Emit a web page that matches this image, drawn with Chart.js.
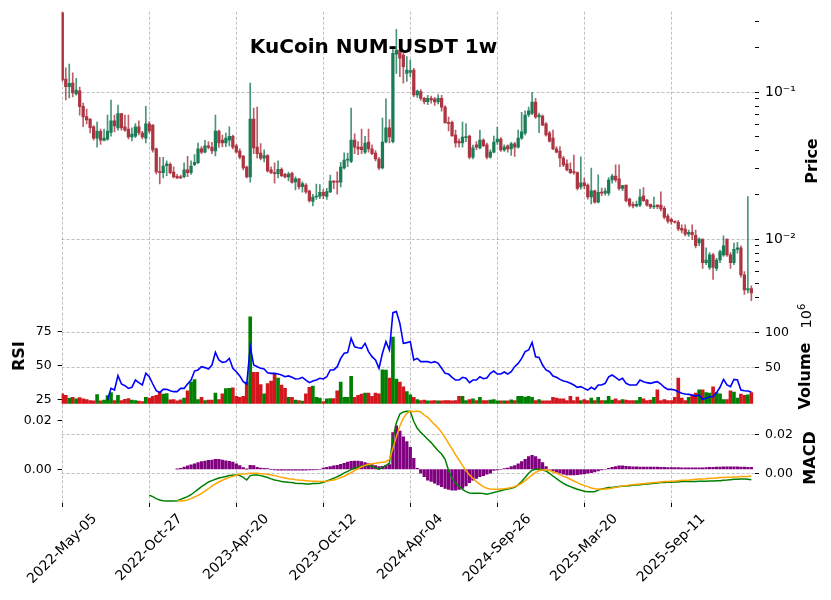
<!DOCTYPE html>
<html><head><meta charset="utf-8">
<script src="https://cdn.jsdelivr.net/npm/chart.js@4.4.0/dist/chart.umd.min.js"></script>
<style>
html,body{margin:0;padding:0;background:#fff;}
#wrap{position:relative;width:831px;height:600px;overflow:hidden;font-family:"DejaVu Sans",sans-serif;background:#fff;}
#wrap canvas{position:absolute;left:0;}
.rl{position:absolute;white-space:nowrap;color:#000;transform:translate(-50%,-50%) rotate(-90deg);font-weight:bold;font-size:16px;line-height:1;}
</style></head><body>
<div id="wrap">
<canvas id="cp" width="831" height="312" style="top:0px"></canvas>
<canvas id="cr" width="831" height="110" style="top:300px"></canvas>
<canvas id="cm" width="831" height="200" style="top:400px"></canvas>
<div style="position:absolute;left:373.5px;top:46px;transform:translate(-50%,-50%);font-weight:bold;font-size:20px;white-space:nowrap;line-height:1;">KuCoin NUM-USDT 1w</div>
<div class="rl" style="left:811.5px;top:161px;">Price</div>
<div class="rl" style="left:18.5px;top:356px;">RSI</div>
<div class="rl" style="left:805px;top:376px;">Volume</div>
<div class="rl" style="left:805px;top:316px;font-weight:normal;font-size:14.5px;">10<sup style="font-size:10px">6</sup></div>
<div class="rl" style="left:810px;top:458px;">MACD</div>
</div>
<script>
// ---------------- data (weekly candles, index 0 = 2022-May-05) ----------------
const tickPositions = [0, 25, 50, 75, 100, 125, 150, 175];
const tickLabels = ['2022-May-05','2022-Oct-27','2023-Apr-20','2023-Oct-12','2024-Apr-04','2024-Sep-26','2025-Mar-20','2025-Sep-11'];
const priceTicks = [0.004,0.005,0.006,0.007,0.008,0.009,0.01,0.02,0.03,0.04,0.05,0.06,0.07,0.08,0.09,0.1,0.2,0.3];
const priceTickLabels = {0.01:'10\u207B\u00B2', 0.1:'10\u207B\u00B9'};
const rsiTicks = [25, 50, 75];
const volumeTicks = [50, 100];
const macdTicks = [0, 0.02];

const opens = [.346,.1226,.1087,.115,.097,.102,.080,.068,.0655,.058,
.0486,.054,.0468,.0478,.053,.0636,.057,.0714,.058,.056,
.0494,.050,.058,.0526,.0486,.0607,.0596,.041,.0288,.0283,
.0315,.0322,.0285,.0267,.0265,.0265,.0295,.0283,.032,.033,
.041,.039,.043,.042,.0397,.0543,.0471,.045,.0471,.050,
.0431,.0396,.0367,.0308,.0264,.0655,.0422,.0384,.0355,.037,
.0295,.0283,.0278,.0298,.0275,.0264,.028,.0245,.0257,.0227,
.0233,.0212,.018,.0193,.0195,.0208,.0195,.0209,.0248,.0246,
.0244,.0305,.0344,.0337,.0471,.0422,.0422,.039,.0457,.041,
.0384,.035,.0304,.0457,.057,.0459,.181,.193,.178,.134,
.136,.141,.0954,.1005,.0906,.086,.0906,.0895,.0855,.0906,
.079,.062,.0623,.051,.0462,.045,.049,.0502,.036,.0437,
.0417,.0471,.0437,.036,.039,.0457,.0478,.0403,.0431,.041,
.0444,.0422,.0486,.0525,.070,.0716,.0855,.0676,.0686,.0607,
.0526,.0486,.041,.0396,.0355,.0325,.0298,.0286,.0283,.0226,
.0241,.0233,.0193,.0213,.0178,.0208,.0205,.0205,.0252,.0268,
.0257,.0221,.0233,.0187,.0172,.0168,.017,.0197,.0184,.0172,
.0165,.017,.017,.0162,.0143,.0136,.0131,.013,.0118,.0117,
.0108,.0111,.0106,.0094,.010,.0069,.0064,.0078,.0063,.0072,
.0078,.010,.0078,.0069,.0085,.0087,.0057,.0045,.0046];

const highs = [.355,.146,.155,.135,.124,.108,.0842,.0766,.066,.059,
.0625,.056,.056,.0697,.0882,.0697,.0816,.0716,.0697,.0697,
.057,.061,.0636,.054,.080,.063,.060,.0416,.036,.036,
.034,.033,.031,.0275,.0272,.033,.0365,.034,.0375,.045,
.0425,.047,.046,.0455,.0697,.055,.051,.0525,.058,.051,
.044,.041,.037,.0313,.115,.0776,.079,.0445,.0405,.0375,
.031,.033,.034,.0305,.028,.0285,.0285,.0265,.0258,.0245,
.0238,.0215,.0201,.0236,.0235,.0217,.0221,.0272,.025,.0286,
.0333,.0386,.0384,.0778,.052,.046,.056,.050,.056,.0437,
.040,.036,.0665,.0897,.065,.2035,.267,.209,.183,.174,
.165,.145,.103,.104,.092,.095,.094,.092,.096,.095,
.081,.0676,.0635,.0551,.048,.0625,.061,.051,.0435,.046,
.0551,.048,.045,.0405,.0502,.0578,.049,.0437,.0437,.0455,
.0455,.0551,.0728,.0746,.079,.0995,.0906,.072,.070,.062,
.054,.0551,.0425,.0425,.0365,.0345,.033,.0373,.0286,.0362,
.026,.0237,.0304,.0215,.0273,.0222,.0222,.0262,.0275,.0319,
.0319,.0232,.0233,.019,.0178,.0181,.0218,.0224,.0186,.0173,
.0193,.0171,.0209,.0167,.0148,.0139,.0133,.0134,.0125,.0125,
.0115,.0125,.0115,.0102,.010,.0087,.0081,.008,.0074,.0084,
.0105,.010,.0081,.0094,.0095,.009,.006,.0194,.0048];

const lows = [.118,.0882,.091,.0925,.095,.0697,.058,.0607,.0526,.047,
.0422,.044,.0465,.0471,.0501,.0535,.055,.055,.054,.048,
.0465,.049,.051,.048,.045,.0525,.039,.0277,.0237,.026,
.027,.0277,.026,.0257,.0257,.026,.0265,.0275,.0316,.0325,
.038,.0385,.041,.038,.0367,.042,.0425,.0425,.043,.041,
.0385,.035,.0295,.026,.0244,.038,.0355,.0345,.0335,.0285,
.0278,.024,.026,.0265,.026,.0248,.024,.0216,.0218,.0208,
.0204,.0178,.0168,.0186,.0188,.0188,.0186,.0207,.022,.0202,
.0226,.0299,.031,.033,.038,.0375,.038,.038,.039,.0375,
.034,.0296,.030,.045,.045,.045,.134,.127,.115,.118,
.127,.093,.092,.088,.083,.082,.084,.081,.083,.074,
.0615,.0543,.050,.0422,.0422,.0422,.046,.035,.035,.0405,
.041,.0425,.035,.0355,.0385,.044,.0395,.0395,.039,.037,
.0365,.0415,.0475,.051,.068,.070,.066,.0528,.059,.050,
.0455,.0405,.0385,.031,.031,.029,.0278,.0275,.0216,.0218,
.022,.0187,.0173,.0175,.0176,.0197,.0199,.0198,.024,.0245,
.0215,.0213,.0179,.0165,.0163,.0165,.0166,.018,.0167,.0161,
.0161,.0161,.0155,.0137,.0128,.0126,.0128,.0114,.011,.0105,
.0104,.0099,.0087,.009,.0063,.0067,.0062,.0053,.0061,.0069,
.0076,.0076,.0063,.0067,.0080,.0055,.0042,.0043,.0038];

const closes = [.1207,.1087,.1146,.0985,.103,.0794,.0676,.0645,.0571,.0486,
.0543,.047,.0486,.0543,.0636,.0587,.0714,.057,.055,.0494,
.0518,.058,.0526,.0494,.0607,.0543,.0403,.0286,.0283,.0314,
.0325,.0283,.0264,.026,.026,.0295,.0283,.0314,.0333,.041,
.039,.043,.042,.0397,.0543,.045,.045,.0486,.050,.0422,
.039,.036,.0304,.0264,.0655,.0417,.038,.0355,.037,.029,
.0283,.0278,.0298,.027,.0264,.0277,.0243,.0257,.0226,.0238,
.0209,.0182,.0193,.0195,.0208,.0197,.021,.0248,.0244,.0244,
.0308,.0344,.0349,.0471,.0422,.041,.0405,.045,.041,.038,
.035,.0304,.0457,.057,.0494,.183,.193,.170,.149,.141,
.140,.0954,.1015,.0906,.086,.0906,.0882,.0855,.0906,.079,
.0615,.0612,.0502,.045,.045,.0494,.0494,.036,.0417,.0422,
.0471,.0431,.036,.039,.0457,.0478,.0403,.0422,.041,.0444,
.0422,.0486,.0535,.0697,.0745,.0855,.0676,.0697,.0596,.051,
.0463,.041,.039,.0355,.0319,.0295,.0283,.0283,.0221,.0241,
.0231,.0193,.0213,.0178,.0208,.0205,.0212,.0252,.0268,.0252,
.0221,.0231,.0182,.017,.0168,.0172,.0193,.0182,.017,.0165,
.0168,.0166,.016,.0141,.0132,.0131,.013,.0117,.0115,.0108,
.0111,.0107,.009,.010,.0069,.0072,.0078,.0064,.0072,.0082,
.009,.0078,.0069,.0085,.0087,.0057,.0045,.0046,.0043];

// volume in millions
const volumes = [13.5,11.2,7.6,8.5,6.3,8,6.3,5.4,4,3.5,
12.5,3.5,4.5,10.8,15.3,4,11.2,4,5.8,6.7,
4.5,4,3.1,2.7,8.5,7.6,9.9,11.2,16.6,13,
13.9,5,5.4,3.5,5,7.6,17.5,30.1,33.3,5.4,
8.5,4,4.5,4.5,14.4,5.4,13.5,20.7,21.1,22,
9.9,8.5,9.9,30.1,121.6,43.6,43.6,26.5,13.5,27.9,
31.5,42.3,35.5,25.6,21.1,8.5,8.5,4.5,4,3.1,
13.5,22.5,24.3,8.5,7.6,2.7,6.3,6.7,6.7,17.5,
30.1,8.5,8.5,38.2,8.5,11.2,13,14.4,14.4,9.9,
14.4,13.5,47.3,46.8,35.5,93.2,34.2,30.1,23.4,16.6,
12.1,8.5,5.4,4,4.5,3.5,3.5,4,3.5,3.5,
4,4,3.5,4,9.9,9.9,4,5.4,6.3,4,
8.5,4,4,4.5,5.4,3.5,3.5,3.5,3.5,5,
4,9.9,9.9,9,9.9,8.5,4,5.4,3.5,3.5,
3.5,8.5,7.6,6.3,6.3,4,9.9,4,9,4,
5.4,4,7.6,4,8.5,4,4,9.9,4.5,6.3,
4,5.4,4.5,4,4,4,8.5,6.3,4,4.5,
8.5,18.9,4,5.4,4,4,8.5,35.5,7.6,4,
8.5,11.2,14.4,18.9,18.9,15.3,14.4,23.4,15.3,13.5,
5.4,5.4,17.5,15.8,7.6,13,11.2,12.1,15.3];

const rsi = [null,null,null,null,null,null,null,null,null,null,
null,null,null,25,33.5,32.3,42.8,36.7,35.5,33.5,
34.3,39.6,37.7,36,44.5,42,36.7,31.8,30.4,32.8,
32.8,31.8,31.1,31.1,33.5,33.5,36.7,39.6,46.2,47,
49.4,48.7,47.7,50.6,59.9,54.3,52.6,53,55.5,48.2,
45.7,42.6,38.4,36.7,64,50.6,49.4,48.2,47.7,45,
44.5,44.5,44,43.3,42,42.6,41.6,40.4,40.6,41.6,
39.6,37.7,38.9,39.6,40.9,40.4,42,47,47,49.4,
55.5,59.2,59.7,70.1,64,63.3,62.8,66.5,60.4,56.7,
54.3,48.2,59.2,67.7,61.6,88.9,89.7,81.1,66.5,67,
67.7,54.3,55.5,53.1,53.1,53.1,52.3,53.1,51.8,48.2,
44.5,44,41.6,39.6,39.6,41.6,40.9,37.7,39.6,39.6,
42,40.6,41.1,44.5,46.2,44,44,45.5,44,45.7,
49.4,51.8,55.5,60.4,61.6,67.2,56.7,56.2,50.6,47,
45.7,42.6,41.6,40.1,38.9,38.4,37.2,36,34.3,34.8,
33.5,32.3,34.3,32.8,36,36,37.2,42,43.3,41.6,
39.6,40.9,37.2,36,36,36,39.6,38.4,37.7,37.2,
37.9,38.4,36.7,34.3,32.8,32.8,32.3,31.1,29.9,29.4,
29.1,28.7,27.9,28.7,25.5,26.2,27.4,27.4,30.4,34.3,
40.1,36,34.8,40.1,39.6,32.3,31.8,31.6,30.9];

const macdLine = [null,null,null,null,null,null,null,null,null,null,
null,null,null,null,null,null,null,null,null,null,
null,null,null,null,null,-0.0114,-0.0121,-0.0131,-0.0138,-0.0142,
-0.0143,-0.0143,-0.0143,-0.0142,-0.0135,-0.0128,-0.0121,-0.0111,-0.0097,-0.0083,
-0.0069,-0.0057,-0.0045,-0.0038,-0.0031,-0.0024,-0.0021,-0.0017,-0.0012,-0.0010,
-0.0009,-0.0012,-0.0021,-0.0035,-0.0012,-0.0009,-0.0009,-0.0012,-0.0017,-0.0022,
-0.0029,-0.0035,-0.0038,-0.0043,-0.0045,-0.0047,-0.0048,-0.0052,-0.0053,-0.0053,
-0.0055,-0.0055,-0.0053,-0.0053,-0.0052,-0.0047,-0.0040,-0.0033,-0.0026,-0.0017,
-0.0009,0.0002,0.0010,0.0019,0.0026,0.0033,0.0038,0.0040,0.0040,0.0036,
0.0029,0.0021,0.0031,0.0041,0.0052,0.0181,0.0262,0.0307,0.0318,0.0321,
0.0320,0.0268,0.0233,0.0212,0.0195,0.0176,0.0159,0.0138,0.0117,0.0100,
0.0072,0.0014,-0.0026,-0.0052,-0.0066,-0.0083,-0.0095,-0.0102,-0.0104,-0.0104,
-0.0104,-0.0105,-0.0109,-0.0104,-0.0099,-0.0095,-0.0090,-0.0085,-0.0081,-0.0078,
-0.0073,-0.0060,-0.0043,-0.0022,0.0000,0.0016,0.0021,0.0021,0.0017,0.0012,
0.0000,-0.0014,-0.0028,-0.0040,-0.0052,-0.0062,-0.0069,-0.0076,-0.0083,-0.0088,
-0.0093,-0.0095,-0.0095,-0.0095,-0.0087,-0.0081,-0.0078,-0.0074,-0.0073,-0.0071,
-0.0069,-0.0067,-0.0066,-0.0064,-0.0062,-0.0060,-0.0059,-0.0057,-0.0055,-0.0054,
-0.0052,-0.0050,-0.0048,-0.0048,-0.0047,-0.0047,-0.0045,-0.0045,-0.0043,-0.0043,
-0.0043,-0.0043,-0.0043,-0.0041,-0.0041,-0.0041,-0.0040,-0.0040,-0.0038,-0.0038,
-0.0036,-0.0035,-0.0033,-0.0031,-0.0031,-0.0029,-0.0029,-0.0031,-0.0033];

const signalLine = [null,null,null,null,null,null,null,null,null,null,
null,null,null,null,null,null,null,null,null,null,
null,null,null,null,null,null,null,null,null,null,
null,null,null,-0.0143,-0.0143,-0.0142,-0.0138,-0.0131,-0.0123,-0.0114,
-0.0104,-0.0092,-0.0080,-0.0067,-0.0055,-0.0045,-0.0036,-0.0028,-0.0021,-0.0016,
-0.0010,-0.0005,-0.0003,-0.0002,0.0000,0.0000,0.0000,-0.0002,-0.0003,-0.0005,
-0.0009,-0.0012,-0.0016,-0.0021,-0.0024,-0.0028,-0.0029,-0.0033,-0.0035,-0.0036,
-0.0038,-0.0040,-0.0041,-0.0041,-0.0043,-0.0043,-0.0041,-0.0038,-0.0035,-0.0029,
-0.0022,-0.0016,-0.0005,0.0003,0.0014,0.0024,0.0034,0.0041,0.0047,0.0050,
0.0052,0.0055,0.0057,0.0060,0.0072,0.0129,0.0190,0.0245,0.0285,0.0311,
0.0323,0.0319,0.0323,0.0318,0.0302,0.0290,0.0271,0.0252,0.0235,0.0212,
0.0185,0.0155,0.0126,0.0095,0.0069,0.0040,0.0014,-0.0009,-0.0026,-0.0043,
-0.0057,-0.0069,-0.0078,-0.0081,-0.0083,-0.0083,-0.0081,-0.0080,-0.0078,-0.0074,
-0.0069,-0.0062,-0.0052,-0.0038,-0.0024,-0.0009,0.0005,0.0014,0.0017,0.0017,
0.0014,0.0007,0.0000,-0.0007,-0.0016,-0.0022,-0.0031,-0.0040,-0.0048,-0.0057,
-0.0064,-0.0069,-0.0076,-0.0080,-0.0081,-0.0083,-0.0081,-0.0080,-0.0076,-0.0073,
-0.0069,-0.0066,-0.0064,-0.0060,-0.0059,-0.0057,-0.0055,-0.0054,-0.0052,-0.0050,
-0.0048,-0.0047,-0.0045,-0.0043,-0.0043,-0.0041,-0.0040,-0.0038,-0.0036,-0.0036,
-0.0035,-0.0033,-0.0031,-0.0029,-0.0029,-0.0028,-0.0026,-0.0026,-0.0024,-0.0022,
-0.0022,-0.0021,-0.0021,-0.0019,-0.0019,-0.0017,-0.0017,-0.0016,-0.0014];

const histogram = [null,null,null,null,null,null,null,null,null,null,
null,null,null,null,null,null,null,null,null,null,
null,null,null,null,null,null,null,null,null,null,
null,null,null,0.0001,0.0004,0.0009,0.0014,0.0018,0.0022,0.0027,
0.0031,0.0034,0.0037,0.0038,0.0041,0.0041,0.0038,0.0035,0.0033,0.0029,
0.0022,0.0015,0.0007,0.0001,0.0016,0.0015,0.0008,0.0005,0.0004,0.0003,
-0.0001,-0.0003,-0.0004,-0.0004,-0.0004,-0.0004,-0.0004,-0.0004,-0.0004,-0.0004,
-0.0004,-0.0003,-0.0003,-0.0001,0.0000,0.0005,0.0008,0.0011,0.0014,0.0016,
0.0020,0.0024,0.0029,0.0033,0.0034,0.0034,0.0031,0.0027,0.0023,0.0019,
0.0015,0.0011,0.0012,0.0015,0.0019,0.0150,0.0177,0.0156,0.0133,0.0113,
0.0090,0.0045,0.0004,-0.0016,-0.0030,-0.0044,-0.0050,-0.0057,-0.0064,-0.0071,
-0.0078,-0.0082,-0.0085,-0.0085,-0.0082,-0.0078,-0.0068,-0.0055,-0.0044,-0.0037,
-0.0030,-0.0026,-0.0020,-0.0016,-0.0005,-0.0003,0.0000,0.0003,0.0005,0.0011,
0.0015,0.0022,0.0031,0.0041,0.0052,0.0057,0.0052,0.0042,0.0027,0.0011,
0.0000,-0.0007,-0.0012,-0.0016,-0.0020,-0.0023,-0.0023,-0.0023,-0.0022,-0.0020,
-0.0019,-0.0016,-0.0014,-0.0011,-0.0007,-0.0003,0.0000,0.0004,0.0008,0.0011,
0.0014,0.0014,0.0012,0.0011,0.0010,0.0010,0.0009,0.0009,0.0009,0.0009,
0.0009,0.0009,0.0008,0.0008,0.0007,0.0007,0.0007,0.0007,0.0006,0.0006,
0.0006,0.0006,0.0006,0.0006,0.0006,0.0007,0.0008,0.0008,0.0009,0.0009,
0.0010,0.0010,0.0010,0.0010,0.0010,0.0009,0.0009,0.0008,0.0008];

// ---------------- styling / layout ----------------
const X_MIN = -0.2, X_MAX = 199.05;
const LEFT_W = 61.6, RIGHT_W = 76;
const GRID = 'rgba(150,150,150,0.75)';
const DASH = [3, 2];
const UP = '#1a7c56', DOWN = '#ad3541';
const UP_W = 'rgba(26,124,86,0.8)', DOWN_W = 'rgba(173,53,65,0.8)';
const VUP = '#008000', VDOWN = '#d4171e';
const XLABEL_FONT = 13.9, XLABEL_TOP = 8;

Chart.defaults.font.family = "'DejaVu Sans', sans-serif";
Chart.defaults.font.size = 12.5;
Chart.defaults.color = '#000';
Chart.defaults.animation = false;
Chart.defaults.plugins.legend.display = false;
Chart.defaults.plugins.tooltip.enabled = false;

const isUp = opens.map((o, i) => closes[i] >= o);

function noPad(s) { s.paddingTop = 0; s.paddingBottom = 0; s.paddingLeft = 0; s.paddingRight = 0; }

function xScale(withTicks) {
  return {
    type: 'linear', min: X_MIN, max: X_MAX, offset: false,
    afterBuildTicks: s => { s.ticks = tickPositions.map(v => ({value: v})); },
    afterFit: s => { s.height = withTicks ? 97 : 0; noPad(s); },
    border: {display: false, dash: DASH},
    grid: {offset: false, color: GRID, lineWidth: 0.8, drawTicks: withTicks, tickLength: 4,
           tickColor: '#000', tickWidth: 1, tickBorderDash: []},
    ticks: {display: false}
  };
}
function sideAxis(pos, min, max, ticks, fmt, withGrid) {
  return {
    type: 'linear', position: pos, min: min, max: max,
    afterBuildTicks: s => { s.ticks = ticks.map(v => ({value: v})); },
    afterFit: s => { s.width = pos === 'left' ? LEFT_W : RIGHT_W; noPad(s); },
    border: {display: false, dash: DASH},
    grid: {drawOnChartArea: withGrid, color: withGrid ? GRID : 'rgba(0,0,0,0)', lineWidth: 0.8,
           tickLength: 4, tickColor: '#000', tickWidth: 1, tickBorderDash: []},
    ticks: {autoSkip: false, padding: 6, color: '#000', callback: fmt}
  };
}

// date labels rotated 45deg and centred on their tick (matplotlib style)
const xLabelPlugin = {
  id: 'xlabels',
  afterDraw(chart) {
    const xs = chart.scales.x, ctx = chart.ctx;
    ctx.save();
    ctx.font = XLABEL_FONT + 'px "DejaVu Sans", sans-serif';
    ctx.fillStyle = '#000';
    ctx.textAlign = 'center';
    ctx.textBaseline = 'middle';
    const h = XLABEL_FONT * 1.17;
    tickPositions.forEach((v, k) => {
      const x = xs.getPixelForValue(v);
      const L = ctx.measureText(tickLabels[k]).width;
      const half = (L + h) / (2 * Math.SQRT2);
      ctx.save();
      ctx.translate(x, xs.top + XLABEL_TOP + half);
      ctx.rotate(-Math.PI / 4);
      ctx.fillText(tickLabels[k], 0, 0);
      ctx.restore();
    });
    ctx.restore();
  }
};

// ---------------- price panel ----------------
new Chart(document.getElementById('cp'), {
  type: 'bar',
  data: {datasets: [
    {data: lows.map((l, i) => ({x: i, y: [l, highs[i]]})), backgroundColor: isUp.map(u => u ? UP_W : DOWN_W),
     barThickness: 1, grouped: false, yAxisID: 'yp', order: 2},
    {data: opens.map((o, i) => ({x: i, y: [o, closes[i]]})), backgroundColor: isUp.map(u => u ? UP : DOWN),
     barThickness: 2.6, minBarLength: 1, grouped: false, yAxisID: 'yp', order: 1}
  ]},
  options: {
    responsive: false, devicePixelRatio: 1,
    layout: {padding: {left: LEFT_W, top: 11.7, right: 0, bottom: 4.4}},
    scales: {
      x: xScale(false),
      yp: {
        type: 'logarithmic', position: 'right', min: 0.003415, max: 0.3518,
        afterBuildTicks: s => { s.ticks = priceTicks.map(v => ({value: v})); },
        afterFit: s => { s.width = RIGHT_W; noPad(s); },
        border: {display: false, dash: DASH},
        grid: {color: c => (c.tick && priceTickLabels[c.tick.value]) ? GRID : 'rgba(0,0,0,0)', lineWidth: 0.8,
               tickLength: 4, tickColor: '#000', tickWidth: 1, tickBorderDash: []},
        ticks: {autoSkip: false, padding: 6, color: '#000', font: {size: 14},
                callback: v => priceTickLabels[v] || ''}
      }
    }
  }
});

// ---------------- RSI + volume panel ----------------
new Chart(document.getElementById('cr'), {
  type: 'bar',
  data: {datasets: [
    {type: 'line', data: rsi.map((v, i) => ({x: i, y: v})), borderColor: '#0000ff', borderWidth: 1.6,
     pointRadius: 0, tension: 0, spanGaps: false, yAxisID: 'yr', order: 1},
    {data: volumes.map((v, i) => ({x: i, y: v})), backgroundColor: isUp.map(u => u ? VUP : VDOWN),
     barThickness: 3, grouped: false, yAxisID: 'yv', order: 2}
  ]},
  options: {
    responsive: false, devicePixelRatio: 1,
    layout: {padding: {left: 0, top: 7.6, right: 0, bottom: 4.7}},
    scales: {
      x: xScale(false),
      yr: sideAxis('left', 21.12, 92.64, rsiTicks, v => String(v), false),
      yv: sideAxis('right', -2.7, 134.7, volumeTicks, v => String(v), true)
    }
  }
});

// ---------------- MACD panel ----------------
new Chart(document.getElementById('cm'), {
  type: 'bar',
  data: {datasets: [
    {type: 'line', data: macdLine.map((v, i) => ({x: i, y: v})), borderColor: '#008000', borderWidth: 1.5,
     pointRadius: 0, tension: 0, yAxisID: 'yl', order: 1},
    {type: 'line', data: signalLine.map((v, i) => ({x: i, y: v})), borderColor: '#ffa500', borderWidth: 1.5,
     pointRadius: 0, tension: 0, yAxisID: 'yl', order: 0},
    {data: histogram.map((v, i) => ({x: i, y: v})), backgroundColor: '#800080',
     barThickness: 2.6, grouped: false, yAxisID: 'yh', order: 2}
  ]},
  options: {
    responsive: false, devicePixelRatio: 1,
    layout: {padding: {left: 0, top: 5.3, right: 0, bottom: 0}},
    scales: {
      x: xScale(true),
      yh: sideAxis('left', -0.01376, 0.02612, macdTicks, v => v.toFixed(2), false),
      yl: sideAxis('right', -0.01539, 0.03523, macdTicks, v => v.toFixed(2), true)
    }
  },
  plugins: [xLabelPlugin]
});
</script>
</body></html>
